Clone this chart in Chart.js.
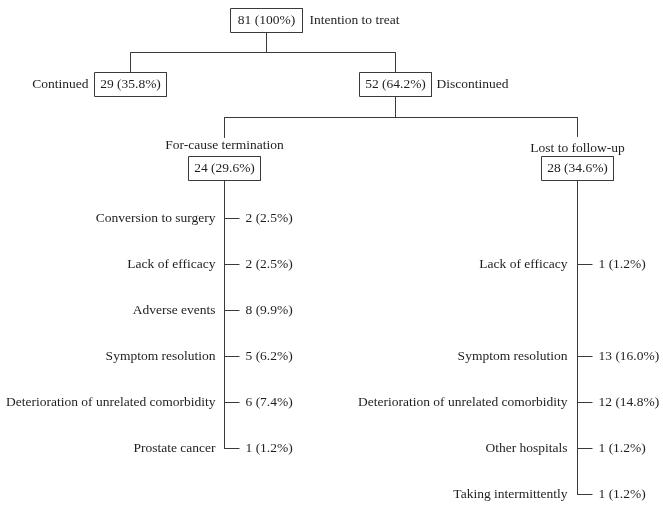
<!DOCTYPE html>
<html>
<head>
<meta charset="utf-8">
<script src="https://cdn.jsdelivr.net/npm/chart.js"></script>
<style>
  html, body { margin: 0; padding: 0; background: #ffffff; }
  #flow { display: block; }
</style>
</head>
<body>
<canvas id="flow" width="663" height="509"></canvas>
<script>
//--------------------------------------
// patient flow chart (drawn on hidden linear scales)
//--------------------------------------

// data
const totalCount = 81;
const totalPct = "100";
const totalLabel = "Intention to treat";

const splitLabels = ["Continued", "Discontinued"];
const splitCounts = [29, 52];
const splitPcts = ["35.8", "64.2"];

const groupLabels = ["For-cause termination", "Lost to follow-up"];
const groupCounts = [24, 28];
const groupPcts = ["29.6", "34.6"];

const forCauseReasons = ["Conversion to surgery", "Lack of efficacy", "Adverse events",
    "Symptom resolution", "Deterioration of unrelated comorbidity", "Prostate cancer"];
const forCauseCounts = [2, 2, 8, 5, 6, 1];
const forCausePcts = ["2.5", "2.5", "9.9", "6.2", "7.4", "1.2"];

const lostReasons = ["Lack of efficacy", "Symptom resolution",
    "Deterioration of unrelated comorbidity", "Other hospitals", "Taking intermittently"];
const lostCounts = [1, 13, 12, 1, 1];
const lostPcts = ["1.2", "16.0", "14.8", "1.2", "1.2"];
const lostRowSlots = [1, 3, 4, 5, 6];   // row slot of each reason in the right column

// layout, in units of the hidden scales (0..663 / 0..509)
const layout = {
    top:      {x: 266.5, y: 20.5},
    splitY:   84.5,
    splitX:   [130.5, 395.5],
    groupY:   168.5,
    groupX:   [224.5, 577.5],
    groupLabelY: [145, 148],
    busY:     [52.5, 117.5],
    groupStubEnd: [137.5, 136.5],
    rowStart: 218.5,
    rowStep:  46,
    boxW: 72,
    boxH: 24,
    tick: 15,
};
const lineColor = "#3a3a3a";
const textColor = "#1e1e1e";
const fontSize = 13.5;
const fontFamily = '"Liberation Serif", "DejaVu Serif", serif';

const label = (n, p) => n + " (" + p + "%)";

// line datasets
const datasets = [];
function addLine(points, width=1) {
    datasets.push({
        data: points.map(([x, y]) => ({x: x, y: y})),
        showLine: true,
        pointRadius: 0,
        borderColor: lineColor,
        borderWidth: width,
        fill: false,
        tension: 0,
    });
}
function addBox(cx, cy) {
    const w = layout.boxW / 2, h = layout.boxH / 2;
    addLine([[cx - w, cy - h], [cx + w, cy - h], [cx + w, cy + h], [cx - w, cy + h], [cx - w, cy - h]]);
}

// texts
const texts = [];
function addText(text, x, y, align) { texts.push({text: text, x: x, y: y, align: align}); }

// top node
addBox(layout.top.x, layout.top.y);
addText(label(totalCount, totalPct), layout.top.x, layout.top.y, "center");
addText(totalLabel, layout.top.x + layout.boxW / 2 + 7, layout.top.y, "left");

// first split
addLine([[layout.top.x, layout.top.y + layout.boxH / 2], [layout.top.x, layout.busY[0]]]);
addLine([[layout.splitX[0], layout.busY[0]], [layout.splitX[1], layout.busY[0]]]);
splitLabels.forEach((name, i) => {
    const cx = layout.splitX[i];
    addLine([[cx, layout.busY[0]], [cx, layout.splitY - layout.boxH / 2]]);
    addBox(cx, layout.splitY);
    addText(label(splitCounts[i], splitPcts[i]), cx, layout.splitY, "center");
    if (i === 0) { addText(name, cx - layout.boxW / 2 - 6, layout.splitY, "right"); }
    else         { addText(name, cx + layout.boxW / 2 + 5, layout.splitY, "left"); }
});

// second split (discontinued)
const discX = layout.splitX[1];
addLine([[discX, layout.splitY + layout.boxH / 2], [discX, layout.busY[1]]]);
addLine([[layout.groupX[0], layout.busY[1]], [layout.groupX[1], layout.busY[1]]]);

const groupReasons = [forCauseReasons, lostReasons];
const groupReasonCounts = [forCauseCounts, lostCounts];
const groupReasonPcts = [forCausePcts, lostPcts];
const groupSlots = [forCauseReasons.map((r, i) => i), lostRowSlots];
const labelGap = [9, 10];

groupLabels.forEach((name, g) => {
    const cx = layout.groupX[g];
    addLine([[cx, layout.busY[1]], [cx, layout.groupStubEnd[g]]]);
    addText(name, cx, layout.groupLabelY[g], "center");
    addBox(cx, layout.groupY);
    addText(label(groupCounts[g], groupPcts[g]), cx, layout.groupY, "center");

    const slots = groupSlots[g];
    const lastY = layout.rowStart + layout.rowStep * slots[slots.length - 1];
    addLine([[cx, layout.groupY + layout.boxH / 2], [cx, lastY]]);
    groupReasons[g].forEach((reason, i) => {
        const ry = layout.rowStart + layout.rowStep * slots[i];
        addLine([[cx, ry], [cx + layout.tick, ry]]);
        addText(reason, cx - labelGap[g], ry, "right");
        addText(label(groupReasonCounts[g][i], groupReasonPcts[g][i]), cx + layout.tick + 6, ry, "left");
    });
});

// plugin to write the texts through the scales
const flowText = {
    id: "flowText",
    afterDatasetsDraw(chart) {
        const ctx = chart.ctx;
        const sx = chart.scales.x, sy = chart.scales.y;
        ctx.save();
        ctx.fillStyle = textColor;
        ctx.font = fontSize + "px " + fontFamily;
        ctx.textBaseline = "middle";
        texts.forEach((t) => {
            ctx.textAlign = t.align;
            ctx.fillText(t.text, sx.getPixelForValue(t.x), sy.getPixelForValue(t.y));
        });
        ctx.restore();
    }
};

new Chart(document.getElementById("flow"), {
    type: "scatter",
    data: { datasets: datasets },
    options: {
        responsive: false,
        animation: false,
        events: [],
        layout: { padding: 0 },
        plugins: { legend: { display: false }, tooltip: { enabled: false } },
        scales: {
            x: { type: "linear", min: 0, max: 663, display: false },
            y: { type: "linear", min: 0, max: 509, reverse: true, display: false }
        }
    },
    plugins: [flowText]
});
</script>
</body>
</html>
